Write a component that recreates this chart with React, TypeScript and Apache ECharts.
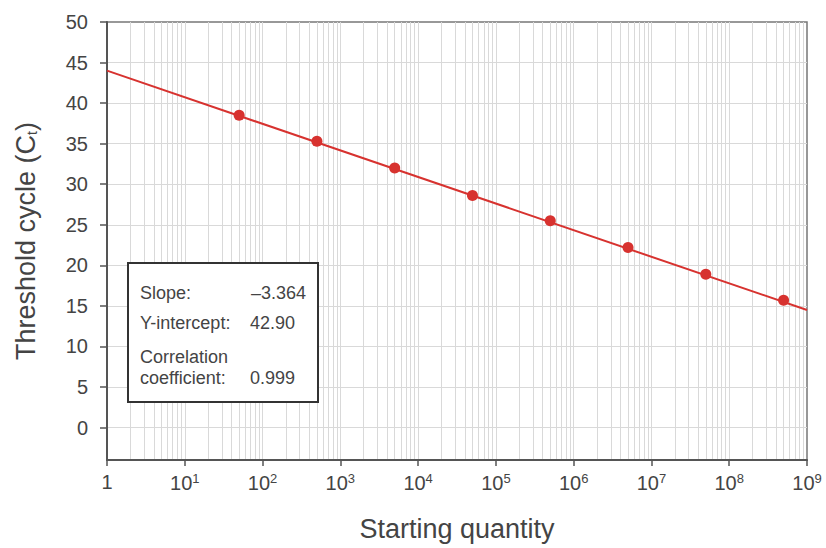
import React, { useEffect, useRef } from "react";
import * as echarts from "echarts";

const startingQuantity = [50, 500, 5000, 50000, 500000, 5000000, 50000000, 500000000];
const thresholdCycle = [38.5, 35.3, 32.0, 28.6, 25.5, 22.2, 18.9, 15.7];
const fitX = [1, 1e9];
const fitY = [44.0, 14.5];
const yTickValues = [0, 5, 10, 15, 20, 25, 30, 35, 40, 45, 50];
const yGridValues = [0, 5, 10, 15, 20, 25, 30, 35, 40, 45];
const decades = [1, 10, 100, 1000, 1e4, 1e5, 1e6, 1e7, 1e8];
const mantissas = [1, 2, 3, 4, 5, 6, 7, 8, 9];
const statsLabels = ["Slope:", "Y-intercept:", "Correlation\ncoefficient:"];
const statsValues = ["\u20133.364", "42.90", "0.999"];

const FONT = "'Liberation Sans', Arial, Helvetica, sans-serif";
const TXT = "#444";

export default function App() {
  const ref = useRef<HTMLDivElement>(null);
  useEffect(() => {
    if (!ref.current) return;
    const chart = echarts.init(ref.current, null, { renderer: "svg" });
    const xGrid: any[] = [];
    decades.forEach((d) => {
      mantissas.forEach((m) => {
        const v = d * m;
        if (v > 1 && v < 1e9) xGrid.push({ xAxis: v });
      });
    });
    const yGrid = yGridValues.map((v) => ({ yAxis: v }));
    const option: any = {
      animation: false,
      backgroundColor: "#fff",
      textStyle: { fontFamily: FONT },
      grid: {
        left: 107,
        right: 19,
        top: 22,
        bottom: 88,
        containLabel: false,
        outerBoundsMode: "none",
        show: true,
        borderColor: "#777",
        borderWidth: 1.5,
        backgroundColor: "transparent",
      },
      xAxis: {
        type: "log",
        logBase: 10,
        min: 1,
        max: 1e9,
        name: "Starting quantity",
        nameLocation: "middle",
        nameGap: 55,
        nameTextStyle: { fontSize: 27, color: TXT, fontFamily: FONT },
        axisLine: { show: true, onZero: false, lineStyle: { color: "#555", width: 2 } },
        axisTick: { show: true, length: 6, lineStyle: { color: "#555", width: 1.5 } },
        splitLine: { show: false },
        minorTick: { show: false },
        axisLabel: {
          color: TXT,
          fontSize: 20,
          fontFamily: FONT,
          margin: 12,
          formatter: (v: number) => {
            const e = Math.round(Math.log10(v));
            if (e === 0) return "1";
            return "10{sup|" + e + "}";
          },
          rich: {
            sup: { fontSize: 13, color: TXT, fontFamily: FONT, verticalAlign: "top", padding: [0, 0, 8, 0] },
          },
        },
      },
      yAxis: {
        type: "value",
        min: -4,
        max: 50,
        name: "Threshold cycle (C{sub|t})",
        nameLocation: "middle",
        nameGap: 68,
        nameTextStyle: {
          fontSize: 27,
          color: TXT,
          fontFamily: FONT,
          rich: { sub: { fontSize: 14, color: TXT, fontFamily: FONT, verticalAlign: "bottom", padding: [12, 0, 0, 0] } },
        },
        axisLine: { show: true, onZero: false, lineStyle: { color: "#555", width: 2 } },
        axisTick: { show: true, length: 7, customValues: yTickValues, lineStyle: { color: "#555", width: 1.5 } },
        axisLabel: { color: TXT, fontSize: 20, fontFamily: FONT, margin: 19, customValues: yTickValues },
        splitLine: { show: false },
      },
      series: [
        {
          type: "line",
          data: [],
          z: 0,
          silent: true,
          markLine: {
            z: 0,
            silent: true,
            symbol: ["none", "none"],
            label: { show: false },
            lineStyle: { color: "#d9d9d9", width: 1, type: "solid" },
            emphasis: { disabled: true },
            data: [...xGrid, ...yGrid],
          },
        },
        {
          type: "line",
          data: fitX.map((x, i) => [x, fitY[i]]),
          showSymbol: false,
          symbol: "none",
          z: 3,
          lineStyle: { color: "#d7322f", width: 2 },
        },
        {
          type: "scatter",
          data: startingQuantity.map((x, i) => [x, thresholdCycle[i]]),
          symbolSize: 11,
          z: 4,
          itemStyle: { color: "#d7322f", opacity: 1 },
        },
      ],
      graphic: [
        {
          type: "rect",
          z: 10,
          shape: { x: 128, y: 263, width: 190, height: 139 },
          style: { fill: "#fff", stroke: "#333", lineWidth: 2 },
        },
        {
          type: "text",
          z: 11,
          x: 140,
          y: 293,
          style: { text: statsLabels[0], fill: TXT, font: `18px ${FONT}`, verticalAlign: "middle" },
        },
        {
          type: "text",
          z: 11,
          x: 306,
          y: 293,
          style: { text: statsValues[0], fill: TXT, font: `18px ${FONT}`, align: "right", verticalAlign: "middle" },
        },
        {
          type: "text",
          z: 11,
          x: 140,
          y: 323,
          style: { text: statsLabels[1], fill: TXT, font: `18px ${FONT}`, verticalAlign: "middle" },
        },
        {
          type: "text",
          z: 11,
          x: 250,
          y: 323,
          style: { text: statsValues[1], fill: TXT, font: `18px ${FONT}`, verticalAlign: "middle" },
        },
        {
          type: "text",
          z: 11,
          x: 140,
          y: 367,
          style: { text: statsLabels[2], fill: TXT, font: `18px ${FONT}`, verticalAlign: "middle", lineHeight: 21 },
        },
        {
          type: "text",
          z: 11,
          x: 250,
          y: 378,
          style: { text: statsValues[2], fill: TXT, font: `18px ${FONT}`, verticalAlign: "middle" },
        },
      ],
    };
    chart.setOption(option);
    return () => chart.dispose();
  }, []);
  return (
    <div
      ref={ref}
      style={{ position: "fixed", left: 0, top: 0, width: 826, height: 548, background: "#fff" }}
    />
  );
}
